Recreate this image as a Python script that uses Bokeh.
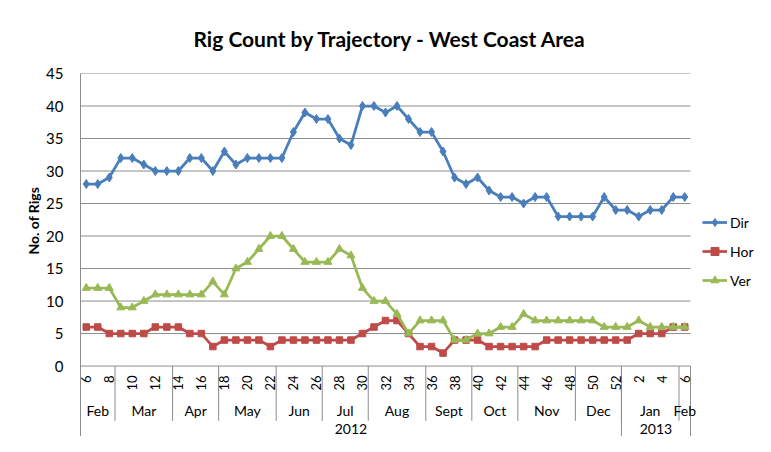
import numpy as np
from bokeh.plotting import figure
from bokeh.models import Range1d, FixedTicker, Legend, LegendItem, ColumnDataSource, Title
from bokeh.core.properties import value
from bokeh.embed import file_html
from bokeh.resources import INLINE

# ---------------- data ----------------
weeks = [6, 7, 8, 9, 10, 11, 12, 13, 14, 15, 16, 17, 18, 19, 20, 21, 22, 23, 24, 25,
         26, 27, 28, 29, 30, 31, 32, 33, 34, 35, 36, 37, 38, 39, 40, 41, 42, 43, 44, 45,
         46, 47, 48, 49, 50, 51, 52, 1, 2, 3, 4, 5, 6]
dir_rigs = [28, 28, 29, 32, 32, 31, 30, 30, 30, 32, 32, 30, 33, 31, 32, 32, 32, 32, 36, 39,
            38, 38, 35, 34, 40, 40, 39, 40, 38, 36, 36, 33, 29, 28, 29, 27, 26, 26, 25, 26,
            26, 23, 23, 23, 23, 26, 24, 24, 23, 24, 24, 26, 26]
hor_rigs = [6, 6, 5, 5, 5, 5, 6, 6, 6, 5, 5, 3, 4, 4, 4, 4, 3, 4, 4, 4,
            4, 4, 4, 4, 5, 6, 7, 7, 5, 3, 3, 2, 4, 4, 4, 3, 3, 3, 3, 3,
            4, 4, 4, 4, 4, 4, 4, 4, 5, 5, 5, 6, 6]
ver_rigs = [12, 12, 12, 9, 9, 10, 11, 11, 11, 11, 11, 13, 11, 15, 16, 18, 20, 20, 18, 16,
            16, 16, 18, 17, 12, 10, 10, 8, 5, 7, 7, 7, 4, 4, 5, 5, 6, 6, 8, 7,
            7, 7, 7, 7, 7, 6, 6, 6, 7, 6, 6, 6, 6]
month_names = ["Feb", "Mar", "Apr", "May", "Jun", "Jul", "Aug", "Sept", "Oct", "Nov", "Dec", "Jan", "Feb"]
month_lengths = [3, 5, 4, 5, 4, 4, 5, 4, 4, 5, 4, 5, 1]
year_names = ["2012", "2013"]
year_lengths = [47, 6]
y_ticks = [0, 5, 10, 15, 20, 25, 30, 35, 40, 45]

# ---------------- layout (canvas px) ----------------
W, H = 755, 436
FL, FT = 80, 65                   # frame left / top
PLOT_R = 690                      # right edge of the plotting area
ZERO_Y = 364                      # y of value 0
n = len(weeks)
ppu = (ZERO_Y - FT) / 45.0
ybot = -(H - ZERO_Y) / ppu
ppx = (PLOT_R - FL) / float(n)
xright = -0.5 + (W - FL) / ppx    # frame runs to canvas edge (room for legend)


def ydata(cy):
    return (ZERO_Y - cy) / ppu


idx = list(range(n))

FONT = "Lato"
GRID = "#8c8c8c"

p = figure(width=W, height=H, x_range=Range1d(-0.5, xright), y_range=Range1d(ybot, 45),
           x_axis_location=None, toolbar_location=None, output_backend="svg",
           min_border_left=FL, min_border_right=0, min_border_top=FT, min_border_bottom=0)
p.outline_line_color = None
p.background_fill_color = "white"
p.border_fill_color = "white"
for g in p.xgrid:
    g.visible = False
for g in p.ygrid:
    g.visible = False

ax = p.yaxis[0]
ax.ticker = FixedTicker(ticks=y_ticks)
ax.axis_line_color = GRID
ax.major_tick_line_color = None
ax.minor_tick_line_color = None
ax.major_tick_out = 0
ax.major_tick_in = 0
ax.major_label_standoff = 17
ax.major_label_text_font = FONT
ax.major_label_text_font_size = "15px"
ax.major_label_text_color = "#000000"

# y-axis title, placed along the 0-45 value span rather than the whole frame
ylab = Title(text="No. of Rigs", align="left", offset=H - 254,
             text_font=FONT, text_font_style="bold", text_font_size="14px",
             text_color="#000000", standoff=4)
p.add_layout(ylab, "left")

p.title.text = "Rig Count by Trajectory - West Coast Area"
p.title.align = "left"
p.title.offset = 193 - FL
p.title.text_font = FONT
p.title.text_font_style = "bold"
p.title.text_font_size = "21px"
p.title.text_color = "#000000"
p.title.standoff = 46

# gridlines (only across the plotting area)
gy = y_ticks[1:]
p.segment(x0=[-0.5] * len(gy), y0=gy, x1=[n - 0.5] * len(gy), y1=gy,
          line_color=GRID, line_width=1)

# ---------------- series ----------------
src = ColumnDataSource(dict(x=idx, dir=dir_rigs, hor=hor_rigs, ver=ver_rigs))
series = [
    ("Dir", "dir", "#4A7EBB", "diamond", 9),
    ("Hor", "hor", "#BE4B48", "square", 6.5),
    ("Ver", "ver", "#98B954", "triangle", 8),
]
items = []
for name, col, color, marker, size in series:
    rl = p.line("x", col, source=src, line_color=color, line_width=2.75, line_join="round")
    rm = p.scatter("x", col, source=src, marker=marker, size=size,
                   fill_color=color, line_color=color, line_width=1)
    items.append(LegendItem(label=name, renderers=[rl, rm]))

# ---------------- category axis (multi-level) ----------------
p.segment(x0=[-0.5], y0=[0], x1=[n - 0.5], y1=[0], line_color=GRID, line_width=1)

mb = np.concatenate([[0], np.cumsum(month_lengths)])
p.segment(x0=list(mb - 0.5), y0=[0] * len(mb), x1=list(mb - 0.5), y1=[ydata(420)] * len(mb),
          line_color=GRID, line_width=1)
yb = np.concatenate([[0], np.cumsum(year_lengths)])
p.segment(x0=list(yb - 0.5), y0=[0] * len(yb), x1=list(yb - 0.5), y1=[ybot] * len(yb),
          line_color=GRID, line_width=1)

wk_x = [i for i, w in zip(idx, weeks) if w % 2 == 0]
wk_t = [str(w) for w in weeks if w % 2 == 0]
p.text(x=wk_x, y=[ydata(373.5)] * len(wk_x), text=wk_t, angle=np.pi / 2,
       text_align="right", text_baseline="middle", text_font=value(FONT),
       text_font_size="13px", text_color="#000000")

m_cx = list((mb[:-1] + mb[1:]) / 2.0 - 0.5)
p.text(x=m_cx, y=[ydata(409)] * len(m_cx), text=month_names, text_align="center",
       text_baseline="middle", text_font=value(FONT), text_font_size="14px", text_color="#000000")

y_cx = list((yb[:-1] + yb[1:]) / 2.0 - 0.5)
p.text(x=y_cx, y=[ydata(428)] * len(y_cx), text=year_names, text_align="center",
       text_baseline="middle", text_font=value(FONT), text_font_size="14px", text_color="#000000")

# ---------------- legend ----------------
legend = Legend(items=items, location=(702 - FL, 146), glyph_width=25, glyph_height=20,
                label_height=20, label_standoff=3, spacing=9, padding=0, margin=0,
                border_line_color=None, background_fill_alpha=0,
                label_text_font=FONT, label_text_font_size="14px", label_text_color="#000000")
p.add_layout(legend, "center")

open("out.html", "w").write(file_html(p, INLINE))
